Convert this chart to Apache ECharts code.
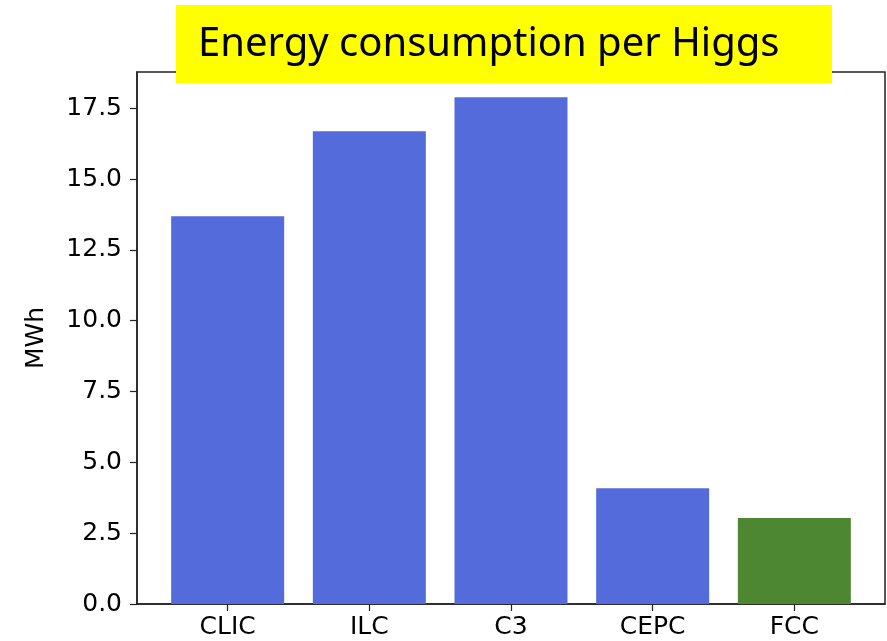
<!DOCTYPE html>
<html>
<head>
<meta charset="utf-8">
<script src="https://cdn.jsdelivr.net/npm/echarts@6/dist/echarts.min.js"></script>
<style>
html,body{margin:0;padding:0;background:#fff;}
#chart{width:887px;height:641px;}
</style>
</head>
<body>
<div id="chart"></div>
<script>
const categories = ['CLIC', 'ILC', 'C3', 'CEPC', 'FCC'];
const values = [13.69, 16.69, 17.89, 4.09, 3.04];
const yTicks = [0, 2.5, 5, 7.5, 10, 12.5, 15, 17.5];
const titleText = 'Energy consumption per Higgs';
const yAxisTitle = 'MWh';

const barColors = ['#536BDB', '#536BDB', '#536BDB', '#536BDB', '#4E8732'];
const xPositions = categories.map((c, i) => i);

const chart = echarts.init(document.getElementById('chart'));
const axisFont = 'DejaVu Sans';
chart.setOption({
  animation: false,
  backgroundColor: '#fff',
  grid: {
    left: 137, right: 2, top: 72, bottom: 37,
    show: true, borderColor: '#222', borderWidth: 1.5, backgroundColor: 'transparent'
  },
  xAxis: {
    type: 'value',
    min: -0.64, max: 4.64,
    splitLine: { show: false },
    axisLine: { show: true, onZero: false, lineStyle: { color: '#222', width: 1.5 } },
    axisTick: { show: true, length: 7, lineStyle: { color: '#222', width: 1.2 }, customValues: xPositions },
    axisLabel: {
      customValues: xPositions,
      formatter: v => categories[Math.round(v)] || '',
      fontFamily: axisFont, fontSize: 25, color: '#000', margin: 11
    }
  },
  yAxis: {
    type: 'value',
    min: 0, max: 18.78,
    name: yAxisTitle,
    nameLocation: 'middle',
    nameGap: 88,
    nameTextStyle: { fontFamily: axisFont, fontSize: 25, color: '#000' },
    splitLine: { show: false },
    axisLine: { show: true, onZero: false, lineStyle: { color: '#222', width: 1.5 } },
    axisTick: { show: true, length: 7, lineStyle: { color: '#222', width: 1.2 }, customValues: yTicks },
    axisLabel: {
      customValues: yTicks,
      formatter: v => v.toFixed(1),
      fontFamily: axisFont, fontSize: 25, color: '#000', margin: 15
    }
  },
  series: [{
    type: 'bar',
    barWidth: 113,
    data: values.map((v, i) => ({ value: [xPositions[i], v], itemStyle: { color: barColors[i] } }))
  }],
  graphic: [{
    type: 'group',
    z: 100,
    children: [{
      type: 'rect',
      shape: { x: 176, y: 5, width: 656, height: 78 },
      style: { fill: '#FFFF00' }
    }, {
      type: 'text',
      x: 198, y: 45,
      style: {
        text: titleText,
        fontFamily: 'Noto Sans',
        fontSize: 40,
        fill: '#000',
        verticalAlign: 'middle'
      }
    }]
  }]
});
</script>
</body>
</html>
